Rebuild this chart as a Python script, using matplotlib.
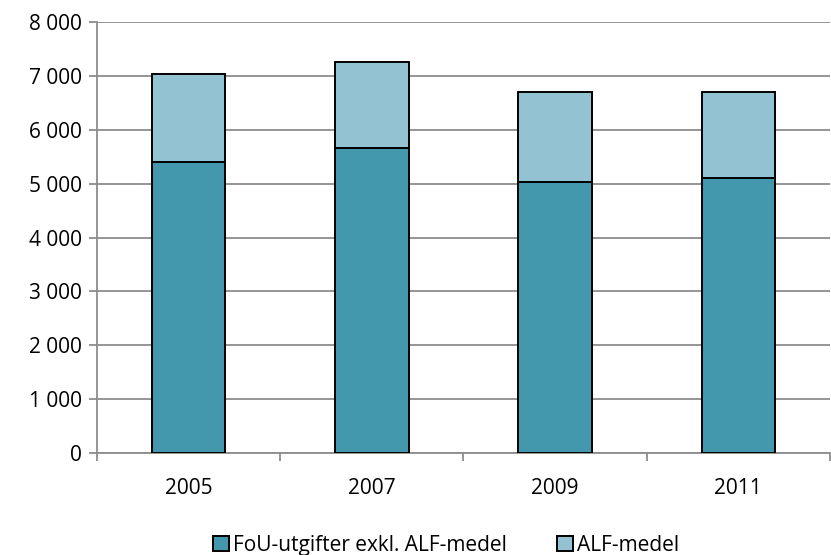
import numpy as np
import matplotlib.pyplot as plt

plt.rcParams['font.family'] = ['Open Sans', 'DejaVu Sans']

years = ['2005', '2007', '2009', '2011']
fou_exkl_alf = [5400, 5660, 5030, 5110]
alf_medel = [1640, 1590, 1670, 1590]
yticks = [0, 1000, 2000, 3000, 4000, 5000, 6000, 7000, 8000]

dark = '#4398AE'
light = '#93C2D3'
grid_col = '#8C8C8C'

fig = plt.figure(figsize=(8.31, 5.55), dpi=100)
ax = fig.add_axes([97/831, 102/555, 733/831, 431/555])

x = np.arange(len(years))
ax.bar(x, fou_exkl_alf, width=0.4, color=dark, edgecolor='black', linewidth=1.4,
       label='FoU-utgifter exkl. ALF-medel', zorder=3)
ax.bar(x, alf_medel, width=0.4, bottom=fou_exkl_alf, color=light, edgecolor='black',
       linewidth=1.4, label='ALF-medel', zorder=3)

ax.set_xlim(-0.5, len(years) - 0.5)
ax.set_ylim(0, 8000)
ax.set_yticks(yticks)
ax.set_yticklabels([f'{v:,}'.replace(',', '\u00a0') for v in yticks], fontsize=15)
ax.set_xticks(x)
ax.set_xticklabels(years, fontsize=15)
ax.set_xticks(np.arange(len(years) + 1) - 0.5, minor=True)
ax.tick_params(axis='x', which='major', length=0, pad=18)
ax.tick_params(axis='x', which='minor', length=6, color=grid_col, width=1.3)
ax.tick_params(axis='y', length=6, color=grid_col, width=1.3, pad=5)

ax.yaxis.grid(True, color=grid_col, linewidth=1.3, zorder=0)
for side in ['top', 'right']:
    ax.spines[side].set_visible(False)
for side in ['left', 'bottom']:
    ax.spines[side].set_color(grid_col)
    ax.spines[side].set_linewidth(1.3)

fig.legend(loc='lower center', bbox_to_anchor=(0.537, -0.035), ncol=2, frameon=False,
           fontsize=15, handlelength=0.75, handleheight=0.75, handletextpad=0.2,
           columnspacing=2.4)

fig.savefig('out.png', dpi=100)
